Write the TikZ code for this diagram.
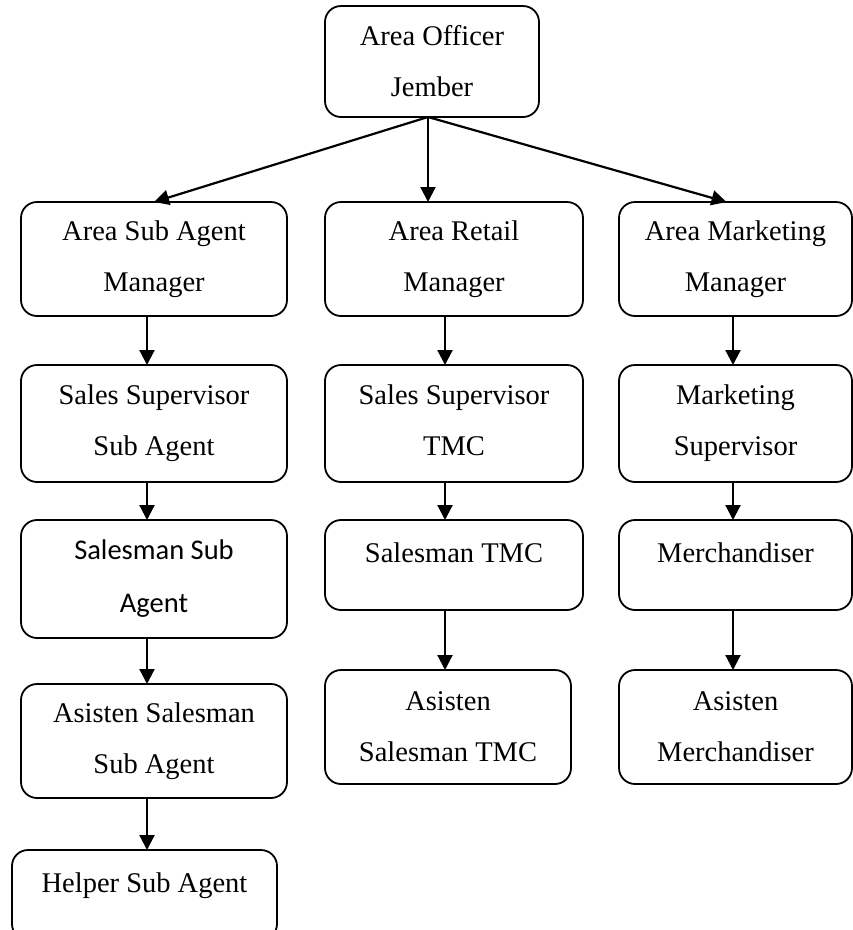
\documentclass[tikz,border=0pt]{standalone}
\usepackage{fontspec}
\setmainfont{Liberation Serif}
\newfontfamily\calibrifont{Carlito}
\usetikzlibrary{arrows.meta}
\tikzset{
  box/.style={draw=black, rounded corners=16pt, line width=1.8pt, align=center, inner sep=0pt, outer sep=0pt, font=\fontsize{28.5}{51}\selectfont},
  lowbox/.style={box, text depth=24pt},
  arrow/.style={-{Triangle[length=15pt,width=15pt]}, line width=2.2pt, draw=black}
}
\begin{document}
\begin{tikzpicture}[x=1pt, y=-1pt]
  \useasboundingbox (0,0) rectangle (853,930);
  \node[box, minimum width=214pt, minimum height=111pt] (ao) at (432,61.5) {Area Officer\\Jember};
  \node[box, minimum width=266pt, minimum height=114pt] (asam) at (154,259) {Area Sub Agent\\Manager};
  \node[box, minimum width=258pt, minimum height=114pt] (arm) at (454,259) {Area Retail\\Manager};
  \node[box, minimum width=233pt, minimum height=114pt] (amm) at (735.5,259) {Area Marketing\\Manager};
  \node[box, minimum width=266pt, minimum height=117pt] (sssa) at (154,423.5) {Sales Supervisor\\Sub Agent};
  \node[box, minimum width=258pt, minimum height=117pt, text depth=6pt] (sstmc) at (454,423.5) {Sales Supervisor\\TMC};
  \node[box, minimum width=233pt, minimum height=117pt] (ms) at (735.5,423.5) {Marketing\\Supervisor};
  \node[box, minimum width=266pt, minimum height=118pt, font=\calibrifont\fontsize{28.5}{53}\selectfont] (ssa) at (154,579) {Salesman Sub\\Agent};
  \node[lowbox, minimum width=258pt, minimum height=90pt] (stmc) at (454,565) {Salesman TMC};
  \node[lowbox, minimum width=233pt, minimum height=90pt] (mer) at (735.5,565) {Merchandiser};
  \node[box, minimum width=266pt, minimum height=114pt] (assa) at (154,741) {Asisten Salesman\\Sub Agent};
  \node[box, minimum width=246pt, minimum height=114pt] (astmc) at (448,727) {Asisten\\Salesman TMC};
  \node[box, minimum width=233pt, minimum height=114pt] (amer) at (735.5,727) {Asisten\\Merchandiser};
  \node[lowbox, minimum width=265pt, minimum height=90pt] (hsa) at (144.5,895) {Helper Sub Agent};
  \draw[arrow] ([xshift=-4pt]ao.south) -- (asam.north);
  \draw[arrow] ([xshift=-4pt]ao.south) -- ([xshift=-26pt]arm.north);
  \draw[arrow] ([xshift=-4pt]ao.south) -- ([xshift=-9pt]amm.north);
  % sub agent column
  \draw[arrow] ([xshift=-7pt]asam.south) -- ([xshift=-7pt]sssa.north);
  \draw[arrow] ([xshift=-7pt]sssa.south) -- ([xshift=-7pt]ssa.north);
  \draw[arrow] ([xshift=-7pt]ssa.south) -- ([xshift=-7pt]assa.north);
  \draw[arrow] ([xshift=-7pt]assa.south) -- ([xshift=2.5pt]hsa.north);
  % retail column
  \draw[arrow] ([xshift=-9pt]arm.south) -- ([xshift=-9pt]sstmc.north);
  \draw[arrow] ([xshift=-9pt]sstmc.south) -- ([xshift=-9pt]stmc.north);
  \draw[arrow] ([xshift=-9pt]stmc.south) -- ([xshift=-3pt]astmc.north);
  % marketing column
  \draw[arrow] ([xshift=-2.5pt]amm.south) -- ([xshift=-2.5pt]ms.north);
  \draw[arrow] ([xshift=-2.5pt]ms.south) -- ([xshift=-2.5pt]mer.north);
  \draw[arrow] ([xshift=-2.5pt]mer.south) -- ([xshift=-2.5pt]amer.north);
\end{tikzpicture}
\end{document}
